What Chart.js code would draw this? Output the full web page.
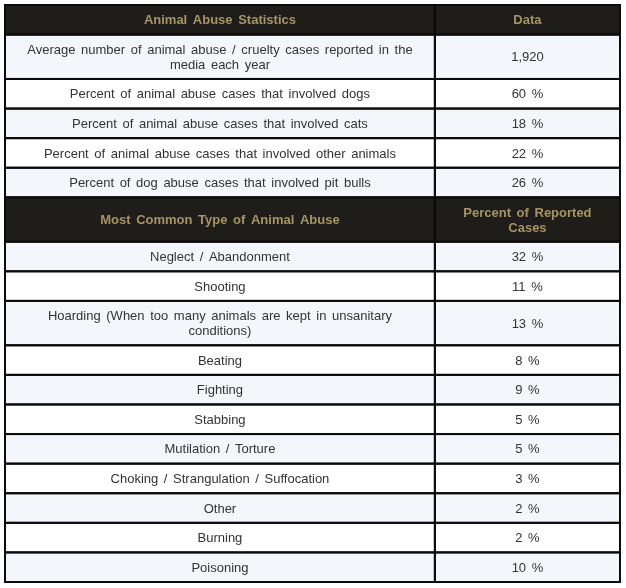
<!DOCTYPE html>
<html>
<head>
<meta charset="utf-8">
<script src="https://cdn.jsdelivr.net/npm/chart.js@4.4.1/dist/chart.umd.min.js"></script>
<style>
  html, body { margin: 0; background: #fff; }
  #wrap { width: 626px; height: 588px; }
</style>
</head>
<body>
<div id="wrap"><canvas id="abuseTable"></canvas></div>
<script>
const statHeader = ["Animal Abuse Statistics", "Data"];
const statLabels = [
  "Average number of animal abuse / cruelty cases reported in the\nmedia each year",
  "Percent of animal abuse cases that involved dogs",
  "Percent of animal abuse cases that involved cats",
  "Percent of animal abuse cases that involved other animals",
  "Percent of dog abuse cases that involved pit bulls"
];
const statValues = ["1,920", "60 %", "18 %", "22 %", "26 %"];

const typeHeader = ["Most Common Type of Animal Abuse", "Percent of Reported\nCases"];
const abuseTypes = [
  "Neglect / Abandonment",
  "Shooting",
  "Hoarding (When too many animals are kept in unsanitary\nconditions)",
  "Beating",
  "Fighting",
  "Stabbing",
  "Mutilation / Torture",
  "Choking / Strangulation / Suffocation",
  "Other",
  "Burning",
  "Poisoning"
];
const abuseShares = [32, 11, 13, 8, 9, 5, 5, 3, 2, 2, 10];

(() => {
  if (typeof Chart === "undefined") return;

  const HEAD_BG = "#1f1d1a";
  const HEAD_TEXT = "#a69465";
  const STRIPE_BG = "#f3f7fc";
  const BODY_TEXT = "#333";
  const BORDER = "#0b0b0b";
  const COL_SPLIT = 0.699;
  const FONT = 'Arial, "Liberation Sans", sans-serif';
  const LINE_H = 15;

  // each row takes (lines + 1) units on the y scale
  const rows = [];
  let cursor = 0;
  function addRow(cells, head, stripe) {
    const lines = Math.max(...cells.map(t => t.split("\n").length));
    rows.push({ cells, head, stripe, start: cursor, size: lines + 1 });
    cursor += lines + 1;
  }
  addRow(statHeader, true, false);
  statLabels.forEach((label, i) => addRow([label, statValues[i]], false, i % 2 === 0));
  addRow(typeHeader, true, false);
  abuseTypes.forEach((label, i) => addRow([label, abuseShares[i] + " %"], false, i % 2 === 0));

  const tablePlugin = {
    id: "tableCells",
    beforeDatasetsDraw(chart) {
      const { ctx, scales: { x, y } } = chart;
      const cols = [[0, COL_SPLIT], [COL_SPLIT, 1]];
      ctx.save();
      if ("wordSpacing" in ctx) ctx.wordSpacing = "2px";
      rows.forEach(row => {
        const top = y.getPixelForValue(row.start);
        const bottom = y.getPixelForValue(row.start + row.size);
        row.cells.forEach((text, c) => {
          const left = x.getPixelForValue(cols[c][0]);
          const right = x.getPixelForValue(cols[c][1]);
          ctx.fillStyle = row.head ? HEAD_BG : (row.stripe ? STRIPE_BG : "#fff");
          ctx.fillRect(left, top, right - left, bottom - top);

          const lines = text.split("\n");
          ctx.font = (row.head ? "bold " : "") + "13px " + FONT;
          ctx.fillStyle = row.head ? HEAD_TEXT : BODY_TEXT;
          ctx.textAlign = "center";
          ctx.textBaseline = "middle";
          const cx = (left + right) / 2;
          const cy = (top + bottom) / 2 + 1 - (lines.length - 1) * LINE_H / 2;
          lines.forEach((ln, k) => ctx.fillText(ln, cx, cy + k * LINE_H));
        });
      });

      // grid lines
      ctx.strokeStyle = BORDER;
      ctx.lineWidth = 2;
      rows.forEach(row => {
        const top = y.getPixelForValue(row.start);
        const bottom = y.getPixelForValue(row.start + row.size);
        cols.forEach(([a, b]) => {
          const left = x.getPixelForValue(a);
          const right = x.getPixelForValue(b);
          ctx.strokeRect(left, top, right - left, bottom - top);
        });
      });
      ctx.restore();
    }
  };

  new Chart(document.getElementById("abuseTable"), {
    type: "scatter",
    data: { datasets: [] },
    options: {
      responsive: true,
      maintainAspectRatio: false,
      animation: false,
      layout: { padding: { left: 5, top: 5, right: 6, bottom: 6 } },
      plugins: {
        legend: { display: false },
        tooltip: { enabled: false }
      },
      scales: {
        x: { type: "linear", min: 0, max: 1, display: false },
        y: { type: "linear", min: 0, max: cursor, reverse: true, display: false }
      }
    },
    plugins: [tablePlugin]
  });
})();
</script>
</body>
</html>
